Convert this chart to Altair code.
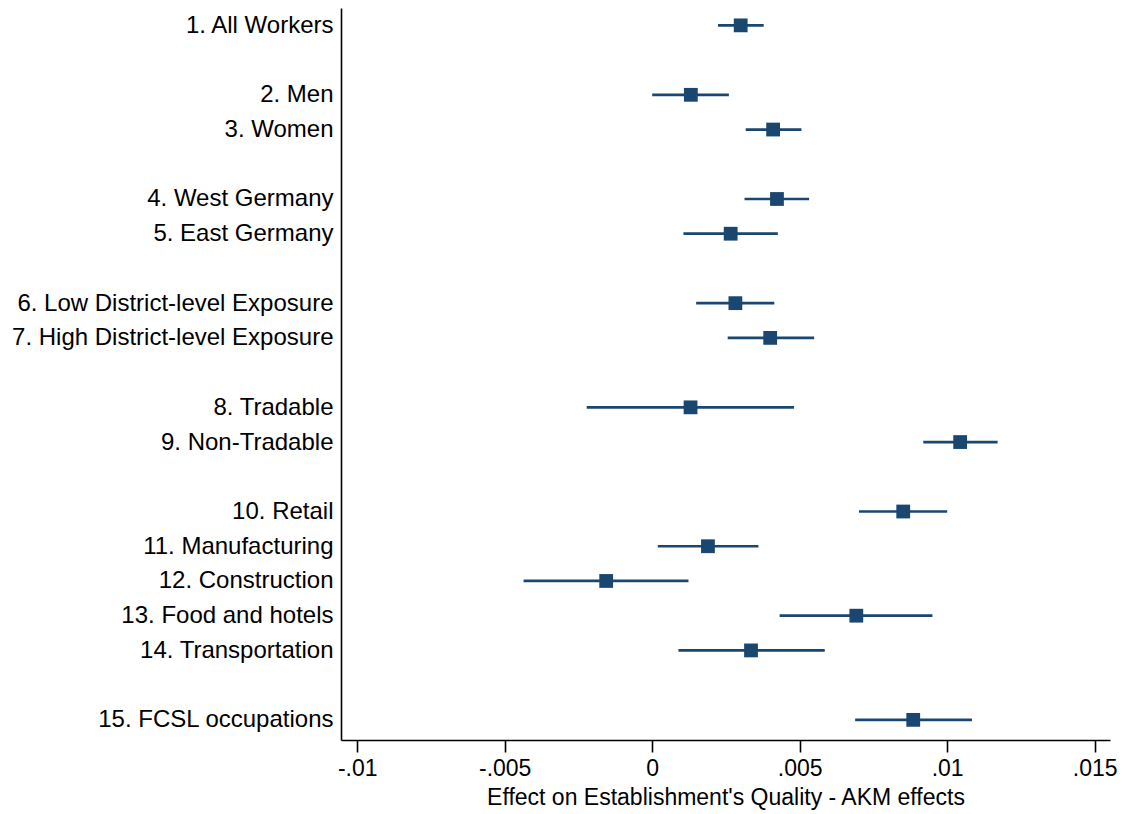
import altair as alt
import pandas as pd

labels = ["1. All Workers", "2. Men", "3. Women", "4. West Germany", "5. East Germany",
          "6. Low District-level Exposure", "7. High District-level Exposure",
          "8. Tradable", "9. Non-Tradable", "10. Retail", "11. Manufacturing",
          "12. Construction", "13. Food and hotels", "14. Transportation",
          "15. FCSL occupations"]
positions = [0, 2, 3, 5, 6, 8, 9, 11, 12, 14, 15, 16, 17, 18, 20]
estimates = [0.0030, 0.00131, 0.0041, 0.00423, 0.00266, 0.00282, 0.0040,
             0.0013, 0.01044, 0.00851, 0.00189, -0.00156, 0.00692, 0.00335, 0.00885]
ci_low = [0.00223, 0.0000, 0.00317, 0.00313, 0.00106, 0.00149, 0.00256,
          -0.00222, 0.00919, 0.00701, 0.00019, -0.00436, 0.00432, 0.00089, 0.00688]
ci_high = [0.00378, 0.0026, 0.00506, 0.00532, 0.00426, 0.00414, 0.00549,
           0.00481, 0.01171, 0.0100, 0.0036, 0.00123, 0.0095, 0.00585, 0.01084]
x_ticks = [-0.01, -0.005, 0, 0.005, 0.01, 0.015]

df = pd.DataFrame({"label": labels, "pos": positions, "est": estimates,
                   "lo": ci_low, "hi": ci_high})

slot = [""] * (max(positions) + 1)
for p, l in zip(positions, labels):
    slot[p] = l
label_expr = "[" + ",".join("'" + s.replace("'", "\\'") + "'" for s in slot) + "][datum.value]"

color = "#1a476f"
font = "Liberation Sans"

y_enc = alt.Y("pos:Q", scale=alt.Scale(domain=[20.58, -0.5], nice=False, zero=False),
              axis=alt.Axis(values=positions, labelExpr=label_expr, title=None,
                            grid=False, ticks=False, labelPadding=8,
                            labelFontSize=24, labelFont=font, labelColor="black",
                            domainColor="black", domainWidth=1.6, labelLimit=400))
x_scale = alt.Scale(domain=[-0.01055, 0.01552], nice=False, zero=False)
x_axis = alt.Axis(values=x_ticks, grid=False, tickSize=12, tickColor="black", tickWidth=1.6,
                  labelExpr="datum.value == 0 ? '0' : (datum.value < 0 ? '-' : '') + replace(format(abs(datum.value), '~g'), '0.', '.')",
                  labelFontSize=23, labelFont=font, labelColor="black", labelPadding=5,
                  title="Effect on Establishment's Quality - AKM effects",
                  titleFontSize=23, titleFont=font, titleFontWeight="normal",
                  titleColor="black", titlePadding=6,
                  domainColor="black", domainWidth=1.6)

rules = alt.Chart(df).mark_rule(color=color, strokeWidth=2.7).encode(
    x=alt.X("lo:Q", scale=x_scale, axis=x_axis),
    x2="hi:Q",
    y=y_enc,
)
points = alt.Chart(df).mark_square(color=color, size=190, opacity=1).encode(
    x=alt.X("est:Q", scale=x_scale, axis=x_axis),
    y=y_enc,
)

chart = (rules + points).properties(
    width=769, height=732,
    background="white",
    autosize=alt.AutoSizeParams(type="none"),
    padding={"left": 333, "top": 0, "right": 8, "bottom": 74},
).configure_view(stroke=None, strokeWidth=0)

chart.save("out.html", embed_options={"renderer": "svg", "actions": False})
